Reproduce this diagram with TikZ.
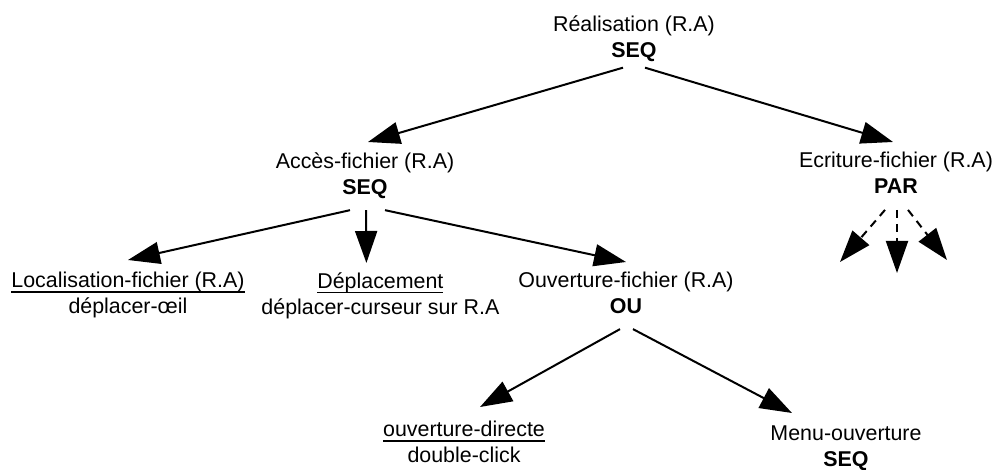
\documentclass[tikz,border=0pt]{standalone}
\usepackage{fontspec}
\setmainfont{Liberation Sans}
\usetikzlibrary{arrows.meta}

\newcommand{\souligne}[1]{\setbox0=\hbox{#1}\rlap{\rule[-2.4pt]{\wd0}{0.7pt}}\box0}

\begin{document}
\begin{tikzpicture}[->,>={Triangle[length=16pt,width=11pt]},line width=1pt,
                    task node/.style={align=center,inner sep=0pt,anchor=north,
                                      font=\fontsize{10.7}{13}\selectfont},
                    dashed arrow/.style={dash pattern=on 4pt off 3pt}]
  \useasboundingbox (0pt,0pt) rectangle (497.5pt,-235pt);

  \node[task node] (root)    at (317pt,-7.2pt)     {Réalisation (R.A)\\\textbf{SEQ}};
  \node[task node] (acces)   at (182.5pt,-75.7pt)  {Accès-fichier (R.A)\\\textbf{SEQ}};
  \node[task node] (ecrit)   at (448pt,-75.7pt)    {Ecriture-fichier (R.A)\\\textbf{PAR}};
  \node[task node] (local)   at (64pt,-135.7pt)    {\souligne{Localisation-fichier (R.A)}\\déplacer-œil};
  \node[task node] (deplac)  at (190.2pt,-135.7pt) {\souligne{Déplacement}\\déplacer-curseur sur R.A};
  \node[task node] (ouvert)  at (313pt,-135.7pt)   {Ouverture-fichier (R.A)\\\textbf{OU}};
  \node[task node] (directe) at (232pt,-210.2pt)   {\souligne{ouverture-directe}\\double-click};
  \node[task node] (menu)    at (423pt,-212.2pt)   {Menu-ouverture\\\textbf{SEQ}};

  \coordinate (par1) at (420pt,-131pt);
  \coordinate (par2) at (448.5pt,-136.5pt);
  \coordinate (par3) at (473.5pt,-130pt);

  \path
    ([xshift=-5.5pt,yshift=-2.65pt]root.south) edge ([xshift=1.5pt,yshift=4.7pt]acces.north)
    ([xshift=5.5pt,yshift=-2.65pt]root.south)  edge ([xshift=-1.5pt,yshift=4.7pt]ecrit.north)
    ([xshift=-7.5pt,yshift=-5.4pt]acces.south) edge ([yshift=5.7pt]local.north)
    ([xshift=0.5pt,yshift=-5.4pt]acces.south)  edge ([xshift=-7pt,yshift=4.2pt]deplac.north)
    ([xshift=10pt,yshift=-5.4pt]acces.south)   edge ([yshift=4.7pt]ouvert.north)
    ([xshift=-3pt,yshift=-7pt]ouvert.south)    edge ([xshift=8pt,yshift=6.7pt]directe.north)
    ([xshift=3.5pt,yshift=-7pt]ouvert.south)   edge ([xshift=-27pt,yshift=5.7pt]menu.north)
    ([xshift=-5.5pt,yshift=-7.5pt]ecrit.south) edge [dashed arrow] (par1)
    ([xshift=0.5pt,yshift=-7.5pt]ecrit.south)  edge [dashed arrow] (par2)
    ([xshift=6pt,yshift=-7.5pt]ecrit.south)    edge [dashed arrow] (par3);
\end{tikzpicture}
\end{document}
